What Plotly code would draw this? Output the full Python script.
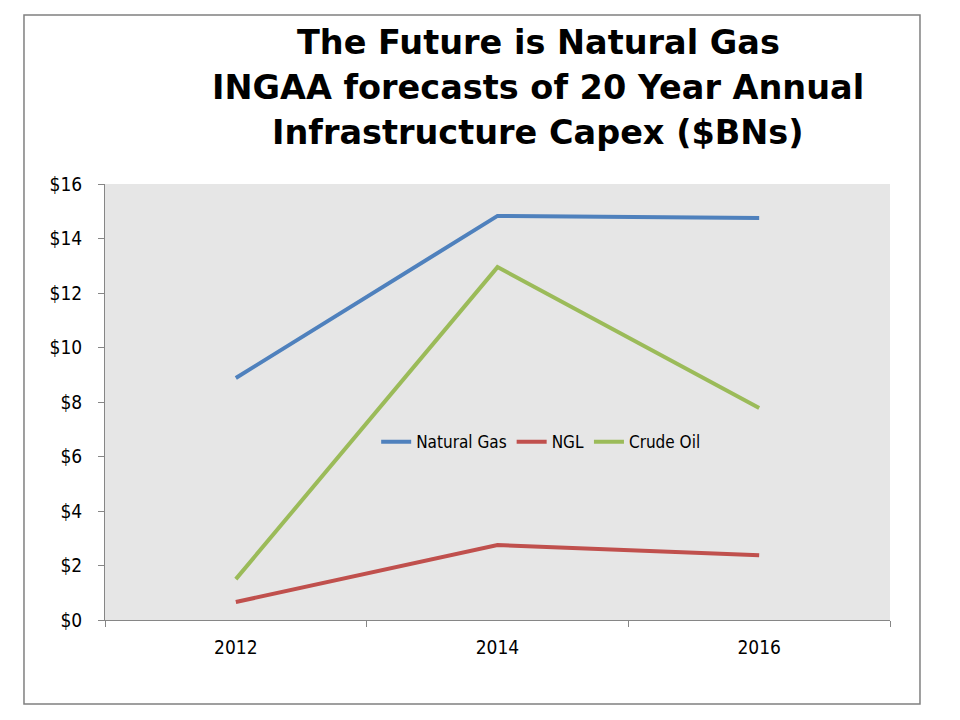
import plotly.graph_objs as go

# Chart data
years = ['2012', '2014', '2016']
natural_gas = [8.88, 14.83, 14.75]
ngl = [0.66, 2.75, 2.38]
crude_oil = [1.5, 12.95, 7.78]

title_lines = ['The Future is Natural Gas',
               'INGAA forecasts of 20 Year Annual',
               'Infrastructure Capex ($BNs)']

series = [('Natural Gas', natural_gas, '#4f81bd'),
          ('NGL', ngl, '#c0504d'),
          ('Crude Oil', crude_oil, '#9bbb59')]

fig = go.Figure()
for name, vals, col in series:
    fig.add_trace(go.Scatter(x=years, y=vals, name=name, mode='lines',
                             line=dict(color=col, width=4)))

font_family = 'DejaVu Sans'
tick_family = 'DejaVu Sans Condensed'
# page body has an 8px margin, so the figure is sized to fit the window
fig.update_layout(
    width=952, height=712,
    margin=dict(l=97, r=70, t=176, b=100),
    paper_bgcolor='white', plot_bgcolor='#e6e6e6',
    font=dict(family=font_family, color='black', size=16),
    showlegend=True,
    legend=dict(orientation='h', x=0.555, y=0.408, xanchor='center', yanchor='middle',
                bgcolor='rgba(0,0,0,0)', font=dict(size=17, family=tick_family), itemwidth=30,
                tracegroupgap=0),
)
fig.update_xaxes(type='category', showgrid=False, showline=True, linecolor='#868686',
                 ticks='outside', tickson='boundaries', ticklen=6, tickcolor='#868686',
                 tickfont=dict(size=19, family=tick_family), range=[-0.5, 2.5],
                 ticklabelstandoff=10)
fig.update_yaxes(range=[0, 16], dtick=2, tickprefix='$', showgrid=False, zeroline=False,
                 showline=True, linecolor='#868686', ticks='outside', ticklen=6,
                 tickcolor='#868686', tickfont=dict(size=19, family=tick_family),
                 ticklabelstandoff=12)

# title block, one annotation per line to control the line spacing
for line, ypos in zip(title_lines, [1.3234, 1.2202, 1.1170]):
    fig.add_annotation(text='<b>' + line + '</b>', xref='paper', yref='paper',
                       x=0.552, y=ypos, xanchor='center', yanchor='middle',
                       showarrow=False, font=dict(size=33.5, family=font_family))

# outer frame
fig.add_shape(type='rect', xref='paper', yref='paper', x0=-0.1032, x1=1.0382,
              y0=-0.1927, y1=1.3876, line=dict(color='#808080', width=1.5))

fig.write_html("out.html")
